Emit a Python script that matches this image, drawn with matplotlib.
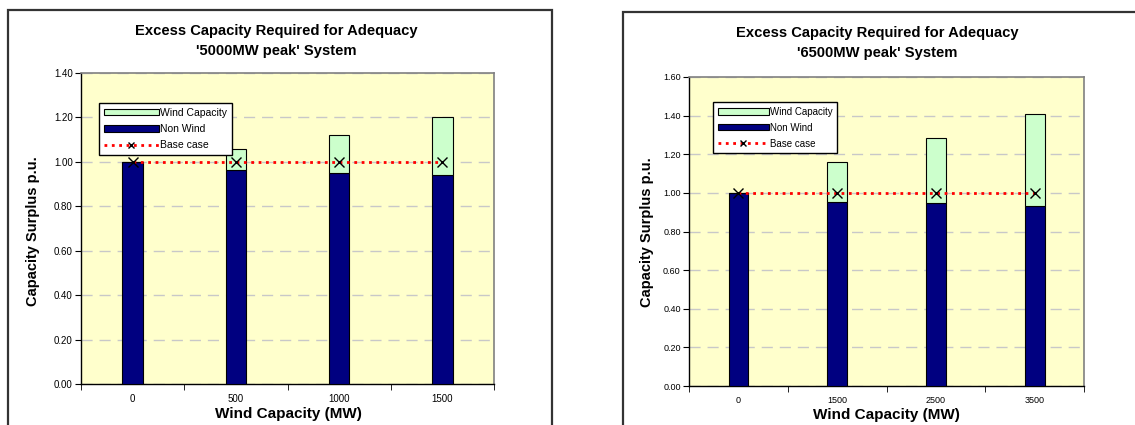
import numpy as np
import matplotlib
matplotlib.use("Agg")
import matplotlib.pyplot as plt
from matplotlib.patches import Patch, Rectangle
from matplotlib.lines import Line2D

plt.rcParams['font.family'] = ['Liberation Sans', 'DejaVu Sans']

# 5000MW peak system
cats_5000 = ['0', '500', '1000', '1500']
nonwind_5000 = [1.00, 0.965, 0.948, 0.943]
total_5000 = [1.00, 1.057, 1.122, 1.200]

# 6500MW peak system
cats_6500 = ['0', '1500', '2500', '3500']
nonwind_6500 = [1.00, 0.954, 0.947, 0.932]
total_6500 = [1.00, 1.158, 1.285, 1.408]

base_case = 1.00

W, H = 1135, 425
fig = plt.figure(figsize=(W / 100, H / 100), dpi=100)


def px_axes(left, top, right, bottom):
    return fig.add_axes([left / W, 1 - bottom / H, (right - left) / W, (bottom - top) / H])


def panel(box, ax_box, cats, nonwind, total, ymax, title2, title_xy, ylab_xy, xlab_xy,
          leg_anchor, tick_fs):
    # chart border
    l, t, r, b = box
    fig.patches.append(Rectangle((l / W, 1 - b / H), (r - l) / W, (b - t) / H,
                                 transform=fig.transFigure, fill=False,
                                 edgecolor='#333333', linewidth=1.6))
    ax = px_axes(*ax_box)
    ax.set_facecolor('#FFFFCC')
    x = np.arange(len(cats))
    wind = np.array(total) - np.array(nonwind)
    ax.bar(x, nonwind, width=0.2, color='#000080', edgecolor='black', linewidth=0.8, zorder=3)
    ax.bar(x, wind, bottom=nonwind, width=0.2, color='#CCFFCC', edgecolor='black',
           linewidth=0.8, zorder=3)
    ax.plot(x, [base_case] * len(x), linestyle=':', color='red', linewidth=2, zorder=4)
    ax.plot(x, [base_case] * len(x), linestyle='none', marker='x', color='black',
            markersize=7, markeredgewidth=1, zorder=5)

    ax.set_xlim(-0.5, len(cats) - 0.5)
    ax.set_ylim(0, ymax)
    yt = np.arange(0, ymax + 0.001, 0.2)
    ax.set_yticks(yt)
    ax.set_yticklabels(['%.2f' % v for v in yt], fontsize=tick_fs)
    ax.set_xticks(x)
    ax.set_xticklabels(cats, fontsize=tick_fs)
    ax.set_xticks(np.arange(len(cats) + 1) - 0.5, minor=True)
    ax.tick_params(axis='x', which='major', length=0, pad=7)
    ax.tick_params(axis='x', which='minor', length=4, direction='out')
    ax.tick_params(axis='y', length=4, direction='out', pad=2)
    ax.yaxis.grid(True, linestyle=(0, (8, 5)), color='#C8C8C8', linewidth=1, zorder=0)
    ax.set_axisbelow(True)
    for s in ['top', 'right']:
        ax.spines[s].set_color('#808080')
        ax.spines[s].set_linewidth(1.2)
    for s in ['left', 'bottom']:
        ax.spines[s].set_color('black')
        ax.spines[s].set_linewidth(1)

    fig.text(title_xy[0] / W, 1 - title_xy[1] / H,
             'Excess Capacity Required for Adequacy\n' + title2,
             ha='center', va='center', fontsize=10.6, fontweight='bold', linespacing=1.5)
    fig.text(ylab_xy[0] / W, 1 - ylab_xy[1] / H, 'Capacity Surplus p.u.', rotation=90,
             ha='center', va='center', fontsize=10.5, fontweight='bold')
    fig.text(xlab_xy[0] / W, 1 - xlab_xy[1] / H, 'Wind Capacity (MW)',
             ha='center', va='center', fontsize=11, fontweight='bold')

    handles = [Patch(facecolor='#CCFFCC', edgecolor='black', linewidth=0.8),
               Patch(facecolor='#000080', edgecolor='black', linewidth=0.8),
               Line2D([], [], color='red', linestyle=':', linewidth=2, marker='x',
                      markeredgecolor='black', markersize=5, markevery=[1])]
    leg = ax.legend(handles, ['Wind Capacity', 'Non Wind', 'Base case'],
                    loc='upper left', bbox_to_anchor=leg_anchor, fontsize=tick_fs + 0.5,
                    frameon=True, fancybox=False, framealpha=1, edgecolor='black',
                    handlelength=5.2, handleheight=0.6, handletextpad=0.15,
                    labelspacing=0.6, borderpad=0.5, borderaxespad=0)
    leg.get_frame().set_linewidth(1)
    return ax


panel((8, 10, 552, 440), (81, 73, 494, 384), cats_5000, nonwind_5000, total_5000, 1.4,
      "'5000MW peak' System", (276, 41), (33, 231), (288, 414), (0.044, 0.905), 7)
panel((623, 12, 1150, 440), (689, 77, 1084, 386), cats_6500, nonwind_6500, total_6500, 1.6,
      "'6500MW peak' System", (877, 43), (647, 232), (886, 415), (0.061, 0.919), 6.5)

fig.savefig('out.png', dpi=100)
